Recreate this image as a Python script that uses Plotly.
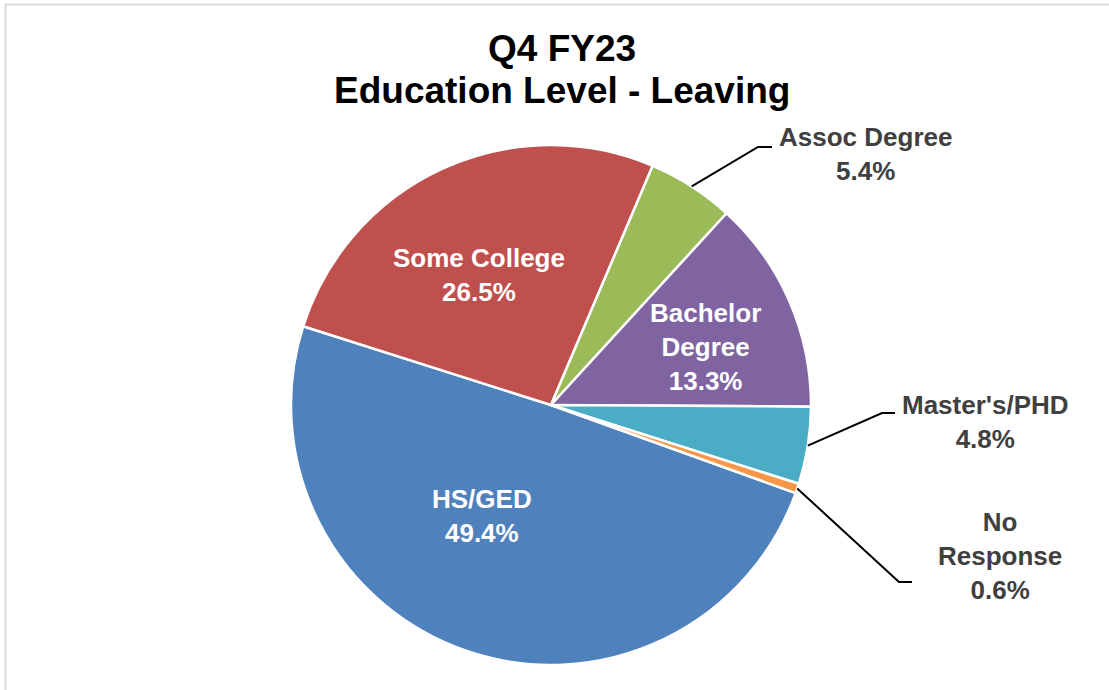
import math
import plotly.graph_objects as go

W, H = 1109, 690

# ---- data ----
categories = ["HS/GED", "Some College", "Assoc Degree", "Bachelor Degree", "Master's/PHD", "No Response"]
values = [49.4, 26.5, 5.4, 13.3, 4.8, 0.6]
colors = ["#4F81BD", "#C0504D", "#9BBB59", "#8064A2", "#4BACC6", "#F79646"]
label_names = ["HS/GED", "Some College", "Assoc Degree", "Bachelor<br>Degree", "Master's/PHD", "No<br>Response"]
label_inside = [True, True, False, True, False, False]

# ---- geometry (pixels) ----
CX, CY, R = 551, 405, 260
ROTATION = 109.8
FONT = "Liberation Sans, Arial"
LABEL_SIZE = 26

def px(x):
    return x / W

def py(y):
    return 1 - y / H

fig = go.Figure(go.Pie(
    labels=categories,
    values=values,
    textinfo="none",
    marker=dict(colors=colors, line=dict(color="white", width=2.5)),
    sort=False,
    direction="clockwise",
    rotation=ROTATION,
    hole=0,
    showlegend=False,
    domain=dict(x=[px(CX - R), px(CX + R)], y=[py(CY + R), py(CY - R)]),
))

# label placement (pixels): inside text centres, outside leader elbows/ends and text centres
label_place = {
    "HS/GED": dict(text_xy=(482, 516)),
    "Some College": dict(text_xy=(479, 275)),
    "Bachelor Degree": dict(text_xy=(706, 347)),
    "Assoc Degree": dict(elbow=(758, 147), end=(772, 147), text_xy=(865, 154)),
    "Master's/PHD": dict(elbow=(882, 413), end=(895, 413), text_xy=(985, 422)),
    "No Response": dict(elbow=(899, 582), end=(912, 582), text_xy=(1000, 556)),
}

total = sum(values)
cum = 0.0
shapes = []
annotations = []
for c, v, name, inside in zip(categories, values, label_names, label_inside):
    start = ROTATION + 360 * cum / total
    mid = start + 360 * v / total / 2
    cum += v
    p = label_place[c]
    if not inside:
        a = math.radians(mid)
        sx = CX + R * math.sin(a)
        sy = CY - R * math.cos(a)
        path = (f"M {px(sx)},{py(sy)} L {px(p['elbow'][0])},{py(p['elbow'][1])} "
                f"L {px(p['end'][0])},{py(p['end'][1])}")
        shapes.append(dict(type="path", xref="paper", yref="paper", path=path,
                           line=dict(color="black", width=2)))
    annotations.append(dict(
        x=px(p["text_xy"][0]), y=py(p["text_xy"][1]), xref="paper", yref="paper",
        text=f"<b>{name}<br>{v:.1f}%</b>", showarrow=False,
        xanchor="center", yanchor="middle", align="center",
        font=dict(family=FONT, size=LABEL_SIZE, color="white" if inside else "#404040"),
    ))

# title
annotations.append(dict(x=px(562), y=py(48), xref="paper", yref="paper", text="<b>Q4 FY23</b>",
                        showarrow=False, xanchor="center", yanchor="middle",
                        font=dict(family=FONT, size=37, color="black")))
annotations.append(dict(x=px(562), y=py(90), xref="paper", yref="paper",
                        text="<b>Education Level - Leaving</b>",
                        showarrow=False, xanchor="center", yanchor="middle",
                        font=dict(family=FONT, size=37, color="black")))

# chart border (cropped at right/bottom)
shapes.append(dict(type="rect", xref="paper", yref="paper",
                   x0=px(5.5), x1=1.2, y0=-0.2, y1=py(4.5),
                   line=dict(color="#D9D9D9", width=2), fillcolor="rgba(0,0,0,0)"))

fig.update_layout(
    width=W, height=H,
    margin=dict(l=0, r=0, t=0, b=0),
    paper_bgcolor="white",
    plot_bgcolor="white",
    shapes=shapes,
    annotations=annotations,
)

fig.write_html("out.html", config={"displayModeBar": False})
